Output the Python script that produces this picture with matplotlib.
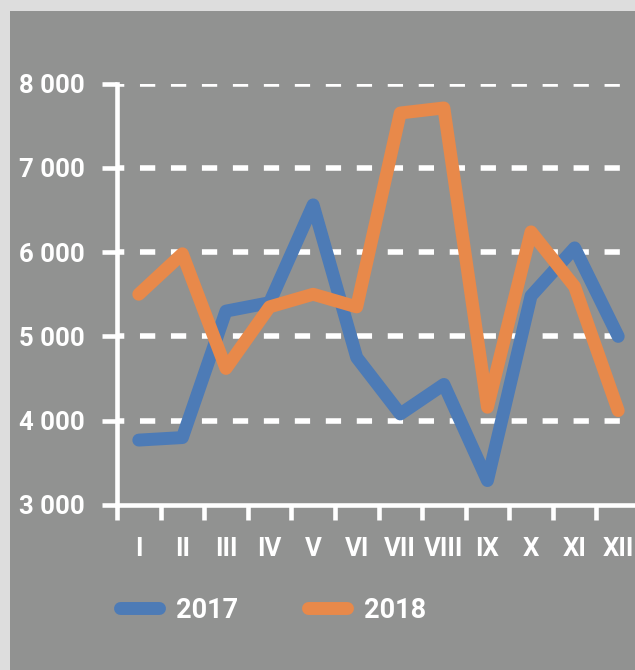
import matplotlib
matplotlib.use("Agg")
import matplotlib.pyplot as plt
from matplotlib.patches import Rectangle
from matplotlib.ticker import FuncFormatter, FixedLocator

months = ["I", "II", "III", "IV", "V", "VI", "VII", "VIII", "IX", "X", "XI", "XII"]
series_names = ["2017", "2018"]
values_2017 = [3770, 3800, 5300, 5400, 6560, 4750, 4080, 4430, 3290, 5480, 6050, 5000]
values_2018 = [5500, 5980, 4620, 5350, 5500, 5350, 7650, 7710, 4160, 6240, 5590, 4120]
y_ticks = [3000, 4000, 5000, 6000, 7000, 8000]

plt.rcParams['font.family'] = ['Roboto', 'DejaVu Sans']
plt.rcParams['lines.scale_dashes'] = False

W, H = 635, 670
fig = plt.figure(figsize=(W / 100, H / 100), dpi=100)
fig.patch.set_facecolor('#dddddd')
panel = Rectangle((10 / W, 0), 1.0, 1 - 11 / H, transform=fig.transFigure,
                  facecolor='#919291', edgecolor='none', zorder=-5)
fig.patches.append(panel)

left, right = 117 / W, 640 / W
bottom, top = (H - 505) / H, (H - 83.5) / H
ax = fig.add_axes([left, bottom, right - left, top - bottom])
ax.set_zorder(5)
ax.set_facecolor('none')

x = list(range(len(months)))
blue = '#4d7bb6'
orange = '#e8894a'
lw = 9.3
ax.plot(x, values_2017, color=blue, lw=lw, solid_capstyle='round',
        solid_joinstyle='round', label=series_names[0], zorder=3, clip_on=False)
ax.plot(x, values_2018, color=orange, lw=lw, solid_capstyle='round',
        solid_joinstyle='round', label=series_names[1], zorder=4, clip_on=False)

ax.set_xlim(-0.5, len(months) - 0.5)
ax.set_ylim(3000, 8000)

for v in y_ticks[1:]:
    ax.axhline(v, color='white', lw=4.0, linestyle=(0.72 * 8, (11.0, 11.3)), zorder=1)

ax.yaxis.set_major_locator(FixedLocator(y_ticks))
ax.yaxis.set_major_formatter(FuncFormatter(lambda v, p: f"{int(v):,}".replace(",", " ")))
ax.set_xticks(x)
ax.set_xticklabels(months)
ax.set_xticks([i - 0.5 for i in range(len(months) + 1)], minor=True)

for s in ['top', 'right']:
    ax.spines[s].set_visible(False)
for s in ['left', 'bottom']:
    ax.spines[s].set_color('white')
    ax.spines[s].set_linewidth(3.3)
    ax.spines[s].set_zorder(2)

fs = 18.5
ax.tick_params(axis='x', which='major', length=0, pad=23, labelsize=fs,
               labelcolor='white')
ax.tick_params(axis='x', which='minor', length=10.5, width=3.3, color='white')
ax.tick_params(axis='y', which='major', length=11, width=3.3, color='white',
               pad=12, labelsize=fs, labelcolor='white')
for lab in ax.get_xticklabels() + ax.get_yticklabels():
    lab.set_fontweight('bold')

lfs = 19.5
leg = ax.legend(loc='center left', bbox_to_anchor=(120 / W, (H - 610) / H),
                bbox_transform=fig.transFigure, ncol=2, frameon=False,
                fontsize=lfs, handlelength=1.45, handletextpad=0.6,
                columnspacing=2.6, borderpad=0, borderaxespad=0)
for t in leg.get_texts():
    t.set_color('white')
    t.set_fontweight('bold')

fig.savefig('out.png', dpi=100, facecolor=fig.get_facecolor())
